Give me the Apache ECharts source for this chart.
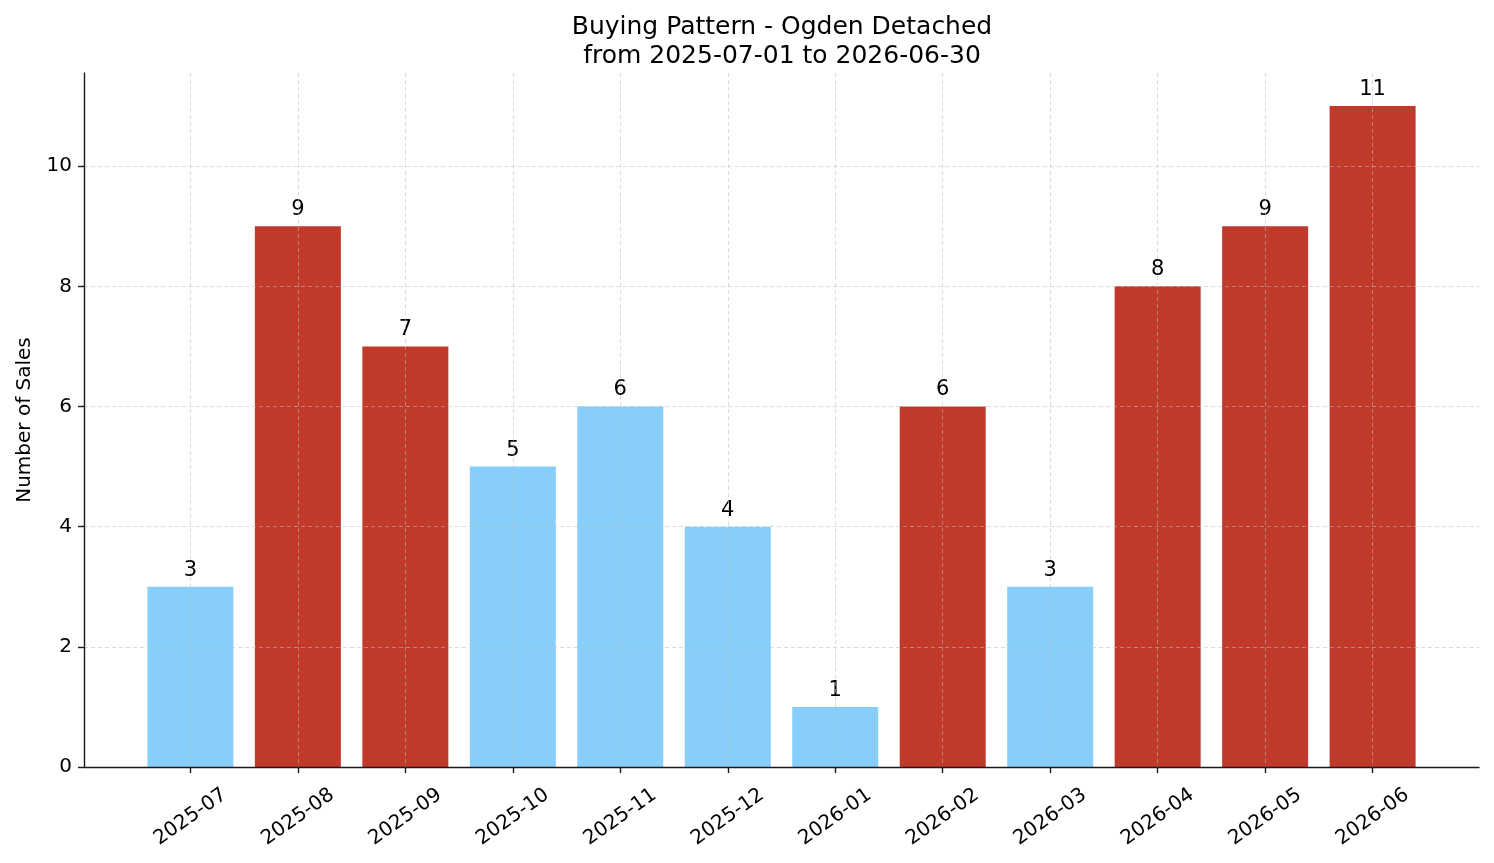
<!DOCTYPE html>
<html>
<head>
<meta charset="utf-8">
<script src="https://cdn.jsdelivr.net/npm/echarts@6/dist/echarts.min.js"></script>
<style>
html,body{margin:0;padding:0;background:#fff;}
#chart{width:1494px;height:863px;}
</style>
</head>
<body>
<div id="chart"></div>
<script>
const months = ['2025-07','2025-08','2025-09','2025-10','2025-11','2025-12','2026-01','2026-02','2026-03','2026-04','2026-05','2026-06'];
const sales = [3, 9, 7, 5, 6, 4, 1, 6, 3, 8, 9, 11];
const peakMonth = [false, true, true, false, false, false, false, true, false, true, true, true];
const yTicks = [0, 2, 4, 6, 8, 10];

const FONT = 'DejaVu Sans';
const RED = '#c0392b', BLUE = '#87cefa';
const AX = '#1a1a1a';
const GRIDC = 'rgba(190,190,190,0.6)';
const yMax = 11.55;

const chart = echarts.init(document.getElementById('chart'), null, {renderer: 'canvas'});
chart.setOption({
  animation: false,
  backgroundColor: '#fff',
  title: {
    text: 'Buying Pattern - Ogden Detached\nfrom 2025-07-01 to 2026-06-30',
    left: 777, top: 8, textAlign: 'center',
    textStyle: {fontFamily: FONT, fontSize: 25, fontWeight: 'normal', color: '#000', lineHeight: 29}
  },
  grid: [
    {left: 84, right: 15, top: 73, bottom: 96, outerBoundsMode: 'none'},
    {left: 190.4, right: 121.4, top: 73, bottom: 96, outerBoundsMode: 'none'}
  ],
  xAxis: [
    {gridIndex: 0, type: 'value', min: 0, max: 1, z: 3,
     axisLine: {show: true, lineStyle: {color: AX, width: 1.4}},
     axisTick: {show: false}, axisLabel: {show: false}, splitLine: {show: false}},
    {gridIndex: 1, type: 'category', data: months, boundaryGap: false, z: 3,
     axisLine: {show: false},
     axisTick: {show: true, interval: 0, length: 6, lineStyle: {color: AX, width: 1.4}},
     axisLabel: {interval: 0, rotate: 35, align: 'center', verticalAlign: 'middle', margin: 50,
                 fontFamily: FONT, fontSize: 20, color: '#000'},
     splitLine: {show: true, interval: 0, lineStyle: {color: GRIDC, type: [4, 3], width: 0.9}}}
  ],
  yAxis: [
    {gridIndex: 0, type: 'value', min: 0, max: yMax, interval: 2, z: 3,
     name: 'Number of Sales', nameLocation: 'middle', nameGap: 49, nameRotate: 90,
     nameMoveOverlap: false,
     nameTextStyle: {fontFamily: FONT, fontSize: 20, color: '#000'},
     axisLine: {show: true, lineStyle: {color: AX, width: 1.4}},
     axisTick: {show: true, length: 6, lineStyle: {color: AX, width: 1.4},
                customValues: yTicks},
     axisLabel: {fontFamily: FONT, fontSize: 20, color: '#000', margin: 12,
                 customValues: yTicks},
     splitLine: {show: true, lineStyle: {color: GRIDC, type: [4, 3], width: 0.9}}},
    {gridIndex: 1, type: 'value', min: 0, max: yMax, show: false,
     splitLine: {show: false}}
  ],
  series: [{
    type: 'bar', xAxisIndex: 1, yAxisIndex: 1, clip: false,
    barWidth: 86,
    data: sales.map((v, i) => ({value: v, itemStyle: {color: peakMonth[i] ? RED : BLUE}})),
    label: {show: true, position: 'top', distance: 6, fontFamily: FONT, fontSize: 21, color: '#000'}
  }]
});
</script>
</body>
</html>
